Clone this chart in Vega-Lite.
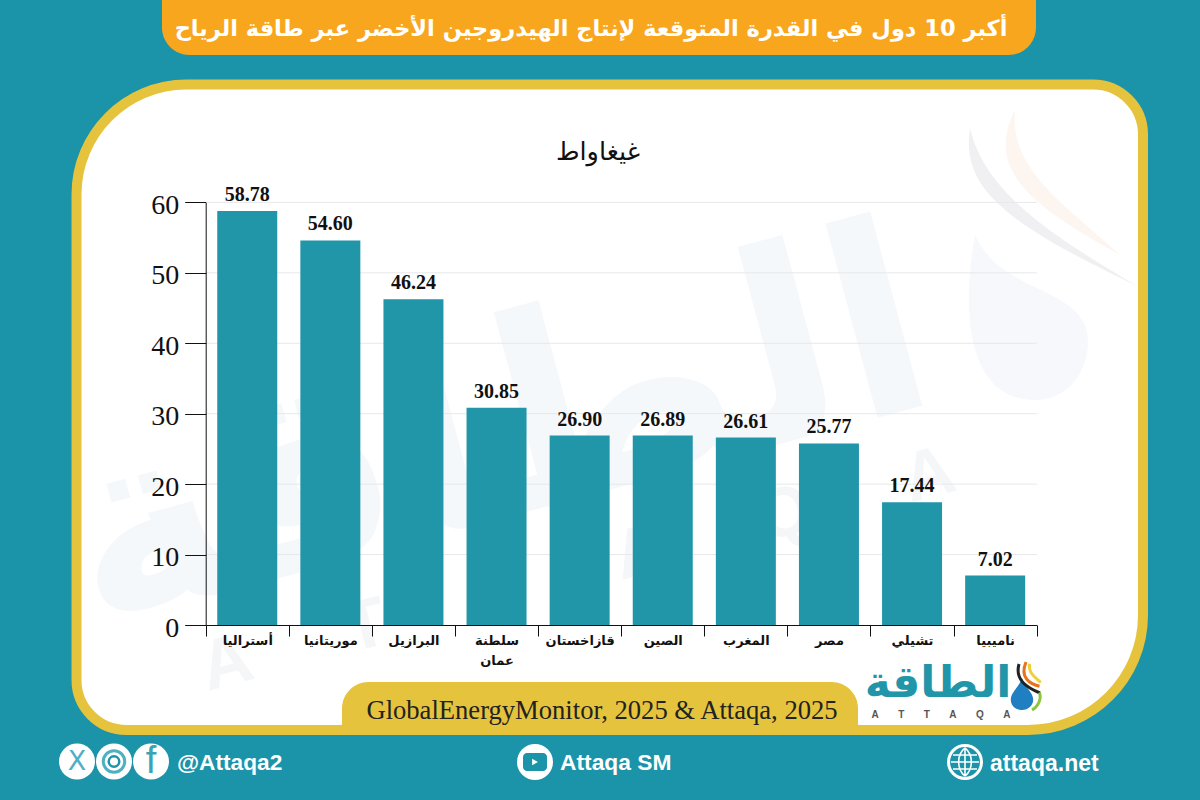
{
"$schema":"https://vega.github.io/schema/vega-lite/v6.json",
"width":1200,"height":800,"padding":0,"autosize":{"type":"none"},
"background":"#1b93a9",
"config":{"view":{"stroke":null}},
"resolve":{"scale":{"x":"independent","y":"independent"},"axis":{"x":"independent","y":"independent"}},
"layer":[
{"data":{"values":[{"k":1}]},
 "layer":[
 {"mark":{"type":"rect","fill":"#ffffff","stroke":"#e5c33d","strokeWidth":10,"cornerRadiusTopLeft":110,"cornerRadiusTopRight":50,"cornerRadiusBottomRight":115,"cornerRadiusBottomLeft":50},
  "encoding":{"x":{"datum":76.5,"type":"quantitative","axis":null,"scale":{"domain":[0,1200],"nice":false,"zero":false}},"x2":{"datum":1143},"y":{"datum":84.5,"type":"quantitative","axis":null,"scale":{"domain":[0,800],"reverse":true,"nice":false,"zero":false}},"y2":{"datum":730}}},
 {"mark":{"type":"text","text":"الطاقة","font":"DejaVu Sans","fontWeight":"bold","fontSize":265,"angle":345,"color":"#f5f8fb","align":"center","baseline":"middle"},
  "encoding":{"x":{"datum":497,"type":"quantitative","axis":null},"y":{"datum":437,"type":"quantitative","axis":null}}},
 {"mark":{"type":"text","text":"A\u00a0\u00a0\u00a0\u00a0\u00a0T\u00a0\u00a0\u00a0\u00a0\u00a0T\u00a0\u00a0\u00a0\u00a0\u00a0A\u00a0\u00a0\u00a0\u00a0\u00a0Q\u00a0\u00a0\u00a0\u00a0\u00a0A","font":"Liberation Sans","fontWeight":"bold","fontSize":70,"angle":345,"color":"#f5f6f8","align":"center","baseline":"middle"},
  "encoding":{"x":{"datum":578,"type":"quantitative","axis":null},"y":{"datum":570,"type":"quantitative","axis":null}}},
 {"mark":{"type":"point","filled":true,"opacity":1,"color":"#fdf5f0","size":67600,"shape":"M-0.27,-1.115C-0.5,-0.654,-0.154,-0.385,0.538,0C0.077,-0.423,-0.308,-0.654,-0.27,-1.115Z"},
  "encoding":{"x":{"datum":1050,"type":"quantitative","axis":null},"y":{"datum":255,"type":"quantitative","axis":null}}},
 {"mark":{"type":"point","filled":true,"opacity":1,"color":"#f0f0f3","size":67600,"shape":"M-0.615,-0.977C-0.692,-0.5,-0.308,-0.23,0.669,0.238C0.077,-0.115,-0.5,-0.46,-0.615,-0.977Z"},
  "encoding":{"x":{"datum":1050,"type":"quantitative","axis":null},"y":{"datum":255,"type":"quantitative","axis":null}}},
 {"mark":{"type":"point","filled":true,"opacity":1,"color":"#f6f8fc","size":67600,"shape":"M-0.577,-0.154C-0.692,0.5,-0.615,1.115,-0.115,1.115C0.23,1.115,0.346,0.73,0.269,0.538C0.115,0.23,-0.385,0.269,-0.577,-0.154Z"},
  "encoding":{"x":{"datum":1050,"type":"quantitative","axis":null},"y":{"datum":255,"type":"quantitative","axis":null}}},
 {"mark":{"type":"rect","fill":"#f9a61f","cornerRadiusBottomLeft":28,"cornerRadiusBottomRight":28},
  "encoding":{"x":{"datum":162,"type":"quantitative","axis":null},"x2":{"datum":1036},"y":{"datum":0,"type":"quantitative","axis":null},"y2":{"datum":55}}},
 {"mark":{"type":"text","text":"أكبر 10 دول في القدرة المتوقعة لإنتاج الهيدروجين الأخضر عبر طاقة الرياح","font":"DejaVu Sans","fontWeight":"bold","fontSize":22.5,"color":"#ffffff","align":"center","baseline":"middle"},
  "encoding":{"x":{"datum":591,"type":"quantitative","axis":null},"y":{"datum":29,"type":"quantitative","axis":null}}},
 {"mark":{"type":"text","text":"غيغاواط","font":"DejaVu Sans","fontSize":25.5,"color":"#111111","align":"center","baseline":"middle"},
  "encoding":{"x":{"datum":598,"type":"quantitative","axis":null},"y":{"datum":152,"type":"quantitative","axis":null}}},
 {"mark":{"type":"rect","fill":"#e5c33d","cornerRadiusTopLeft":34,"cornerRadiusTopRight":34},
  "encoding":{"x":{"datum":342,"type":"quantitative","axis":null},"x2":{"datum":858},"y":{"datum":682,"type":"quantitative","axis":null},"y2":{"datum":735}}},
 {"mark":{"type":"text","text":"GlobalEnergyMonitor, 2025 & Attaqa, 2025","font":"Liberation Serif","fontSize":26.6,"color":"#222222","align":"center","baseline":"middle"},
  "encoding":{"x":{"datum":602,"type":"quantitative","axis":null},"y":{"datum":711,"type":"quantitative","axis":null}}},
 {"mark":{"type":"text","text":"الطاقة","font":"DejaVu Sans","fontWeight":"bold","fontSize":44,"color":"#2196a9","align":"center","baseline":"middle"},
  "encoding":{"x":{"datum":938,"type":"quantitative","axis":null},"y":{"datum":684,"type":"quantitative","axis":null}}},
 {"mark":{"type":"text","text":"A\u00a0\u00a0\u00a0\u00a0\u00a0\u00a0\u00a0T\u00a0\u00a0\u00a0\u00a0\u00a0\u00a0\u00a0T\u00a0\u00a0\u00a0\u00a0\u00a0\u00a0\u00a0A\u00a0\u00a0\u00a0\u00a0\u00a0\u00a0\u00a0Q\u00a0\u00a0\u00a0\u00a0\u00a0\u00a0\u00a0A","font":"Liberation Sans","fontWeight":"bold","fontSize":10,"color":"#555555","align":"center","baseline":"middle"},
  "encoding":{"x":{"datum":941,"type":"quantitative","axis":null},"y":{"datum":715,"type":"quantitative","axis":null}}},
 {"mark":{"type":"point","filled":true,"opacity":1,"color":"#1f7fc0","size":1024,"shape":"M0,-1C0.2,-0.4,0.7,-0.1,0.7,0.35C0.7,0.75,0.38,1,0,1C-0.38,1,-0.7,0.75,-0.7,0.35C-0.7,-0.1,-0.2,-0.4,0,-1Z"},
  "encoding":{"x":{"datum":1022,"type":"quantitative","axis":null},"y":{"datum":694,"type":"quantitative","axis":null}}},
 {"mark":{"type":"point","filled":false,"opacity":1,"stroke":"#222222","strokeWidth":3,"size":2500,"shape":"M-0.32,-0.84C-0.5,-0.2,0,0.1,0.52,0.32"},
  "encoding":{"x":{"datum":1027,"type":"quantitative","axis":null},"y":{"datum":685,"type":"quantitative","axis":null}}},
 {"mark":{"type":"point","filled":false,"opacity":1,"stroke":"#e8731a","strokeWidth":3,"size":2500,"shape":"M-0.04,-0.92C-0.3,-0.3,0.1,-0.05,0.5,0.05"},
  "encoding":{"x":{"datum":1027,"type":"quantitative","axis":null},"y":{"datum":685,"type":"quantitative","axis":null}}},
 {"mark":{"type":"point","filled":false,"opacity":1,"stroke":"#f2cf3a","strokeWidth":3,"size":2500,"shape":"M0.1,-0.85C0.05,-0.45,0.35,-0.3,0.55,-0.1"},
  "encoding":{"x":{"datum":1027,"type":"quantitative","axis":null},"y":{"datum":685,"type":"quantitative","axis":null}}},
 {"mark":{"type":"point","filled":false,"opacity":1,"stroke":"#8cc63f","strokeWidth":3,"size":2500,"shape":"M0.5,0.3C0.6,0.6,0.4,0.9,0.2,1"},
  "encoding":{"x":{"datum":1027,"type":"quantitative","axis":null},"y":{"datum":685,"type":"quantitative","axis":null}}},
 {"mark":{"type":"point","filled":true,"opacity":1,"color":"#ffffff","size":1296},
  "encoding":{"x":{"datum":77,"type":"quantitative","axis":null},"y":{"datum":761.5,"type":"quantitative","axis":null}}},
 {"mark":{"type":"point","filled":true,"opacity":1,"color":"#ffffff","size":1296},
  "encoding":{"x":{"datum":114,"type":"quantitative","axis":null},"y":{"datum":761.5,"type":"quantitative","axis":null}}},
 {"mark":{"type":"point","filled":true,"opacity":1,"color":"#ffffff","size":1296},
  "encoding":{"x":{"datum":151,"type":"quantitative","axis":null},"y":{"datum":761.5,"type":"quantitative","axis":null}}},
 {"mark":{"type":"point","filled":true,"opacity":1,"color":"#ffffff","size":1296},
  "encoding":{"x":{"datum":535,"type":"quantitative","axis":null},"y":{"datum":762,"type":"quantitative","axis":null}}},
 {"mark":{"type":"point","filled":true,"opacity":1,"color":"#ffffff","size":1296},
  "encoding":{"x":{"datum":965,"type":"quantitative","axis":null},"y":{"datum":762,"type":"quantitative","axis":null}}},
 {"mark":{"type":"text","text":"X","font":"DejaVu Sans","fontSize":27,"color":"#4fb0c2","align":"center","baseline":"middle"},
  "encoding":{"x":{"datum":77,"type":"quantitative","axis":null},"y":{"datum":762,"type":"quantitative","axis":null}}},
 {"mark":{"type":"text","text":"f","font":"Liberation Sans","fontSize":38,"color":"#3aa3b6","align":"center","baseline":"middle"},
  "encoding":{"x":{"datum":151,"type":"quantitative","axis":null},"y":{"datum":762,"type":"quantitative","axis":null}}},
 {"mark":{"type":"point","filled":false,"opacity":1,"stroke":"#4fb0c2","strokeWidth":3,"size":460},
  "encoding":{"x":{"datum":114,"type":"quantitative","axis":null},"y":{"datum":761.5,"type":"quantitative","axis":null}}},
 {"mark":{"type":"point","filled":false,"opacity":1,"stroke":"#1b93a9","strokeWidth":2.5,"size":110},
  "encoding":{"x":{"datum":114,"type":"quantitative","axis":null},"y":{"datum":761.5,"type":"quantitative","axis":null}}},
 {"mark":{"type":"rect","fill":"#1b93a9","cornerRadius":4},
  "encoding":{"x":{"datum":523,"type":"quantitative","axis":null},"x2":{"datum":547},"y":{"datum":753,"type":"quantitative","axis":null},"y2":{"datum":771}}},
 {"mark":{"type":"point","filled":true,"opacity":1,"color":"#ffffff","size":45,"shape":"triangle-right"},
  "encoding":{"x":{"datum":535,"type":"quantitative","axis":null},"y":{"datum":762,"type":"quantitative","axis":null}}},
 {"mark":{"type":"point","filled":true,"opacity":1,"color":"#1b93a9","size":900},
  "encoding":{"x":{"datum":965,"type":"quantitative","axis":null},"y":{"datum":762,"type":"quantitative","axis":null}}},
 {"mark":{"type":"point","filled":false,"opacity":1,"stroke":"#ffffff","strokeWidth":1.6,"size":800,"shape":"M-1,0L1,0M0,-1L0,1M-0.85,-0.5L0.85,-0.5M-0.85,0.5L0.85,0.5M0,-1C-0.6,-0.5,-0.6,0.5,0,1M0,-1C0.6,-0.5,0.6,0.5,0,1"},
  "encoding":{"x":{"datum":965,"type":"quantitative","axis":null},"y":{"datum":762,"type":"quantitative","axis":null}}},
 {"mark":{"type":"text","text":"@Attaqa2","font":"Liberation Sans","fontWeight":"bold","fontSize":22.7,"color":"#ffffff","align":"left","baseline":"middle"},
  "encoding":{"x":{"datum":177,"type":"quantitative","axis":null},"y":{"datum":763,"type":"quantitative","axis":null}}},
 {"mark":{"type":"text","text":"Attaqa SM","font":"Liberation Sans","fontWeight":"bold","fontSize":22.8,"color":"#ffffff","align":"left","baseline":"middle"},
  "encoding":{"x":{"datum":560,"type":"quantitative","axis":null},"y":{"datum":763,"type":"quantitative","axis":null}}},
 {"mark":{"type":"text","text":"attaqa.net","font":"Liberation Sans","fontWeight":"bold","fontSize":23,"color":"#ffffff","align":"left","baseline":"middle"},
  "encoding":{"x":{"datum":990,"type":"quantitative","axis":null},"y":{"datum":764,"type":"quantitative","axis":null}}}
 ]},
{"resolve":{"scale":{"x":"independent","y":"independent"},"axis":{"x":"independent","y":"independent"}},
 "layer":[
 {"data":{"values":[{"gridline":10},{"gridline":20},{"gridline":30},{"gridline":40},{"gridline":50},{"gridline":60}]},
  "mark":{"type":"rule","color":"#e6e8ea","strokeWidth":1},
  "encoding":{"x":{"datum":205.7,"type":"quantitative","axis":null,"scale":{"domain":[0,1200],"nice":false,"zero":false}},"x2":{"datum":1036.7},
   "y":{"field":"gridline","type":"quantitative","axis":null,
    "scale":{"domain":[0,60],"range":[625,202.4],"nice":false}}}},
 {"data":{"values":[
  {"country":"أستراليا","value":58.78},
  {"country":"موريتانيا","value":54.60},
  {"country":"البرازيل","value":46.24},
  {"country":"سلطنة عمان","value":30.85},
  {"country":"قازاخستان","value":26.90},
  {"country":"الصين","value":26.89},
  {"country":"المغرب","value":26.61},
  {"country":"مصر","value":25.77},
  {"country":"تشيلي","value":17.44},
  {"country":"ناميبيا","value":7.02}]},
  "encoding":{
   "x":{"field":"country","type":"nominal","sort":null,
    "scale":{"domain":["أستراليا","موريتانيا","البرازيل","سلطنة عمان","قازاخستان","الصين","المغرب","مصر","تشيلي","ناميبيا"],"range":[205.7,1036.7],"paddingInner":0,"paddingOuter":0},
    "axis":{"orient":"bottom","offset":-175,"title":null,"zindex":1,"grid":false,"domain":true,"ticks":true,"domainColor":"#111111","tickColor":"#111111","tickSize":11,"tickBand":"extent","labelAngle":0,"labelFont":"DejaVu Sans","labelFontWeight":"bold","labelFontSize":13,"labelColor":"#111111","labelPadding":-2,"labelLineHeight":20,"labelBaseline":"top","labelOverlap":false,"labelLimit":120,"labelExpr":"split(datum.label,' ')"}},
   "y":{"field":"value","type":"quantitative",
    "scale":{"domain":[0,60],"range":[625,202.4],"nice":false},
    "axis":{"orient":"left","offset":-205.7,"title":null,"zindex":1,"grid":false,"domain":true,"ticks":true,"values":[0,10,20,30,40,50,60],"domainColor":"#111111","domainWidth":1,"tickColor":"#111111","tickWidth":1,"tickSize":21,"labelFont":"Liberation Serif","labelFontSize":28,"labelColor":"#111111","labelPadding":6,"labelBaseline":"middle","labelOffset":3}}},
  "layer":[
  {"mark":{"type":"bar","fill":"#2196a9","width":{"band":0.722}}},
  {"mark":{"type":"text","font":"Liberation Serif","fontWeight":"bold","fontSize":20,"color":"#111111","align":"center","baseline":"bottom","dy":-6},
   "encoding":{"text":{"field":"value","type":"quantitative","format":".2f"}}}
  ]}
 ]}
]}
